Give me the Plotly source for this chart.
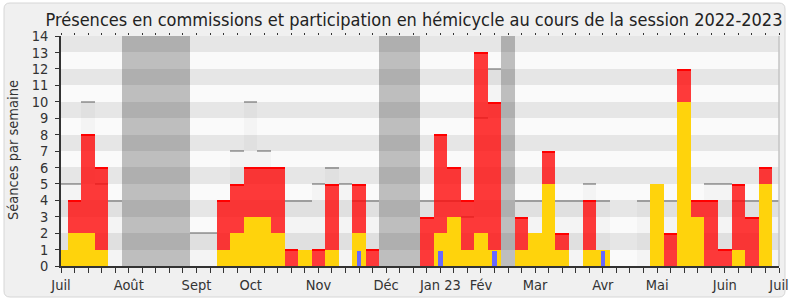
import plotly.graph_objects as go

# ---- data ----
weeks = list(range(54))
month_labels = {0: "Juil", 5: "Août", 10: "Sept", 14: "Oct", 19: "Nov", 24: "Déc",
                28: "Jan 23", 31: "Fév", 35: "Mar", 40: "Avr", 44: "Mai", 49: "Juin", 53: "Juil"}

hemicycle = [1, 2, 2, 1, 0, 0, 0, 0, 0, 0, 0, 0, 1, 2, 3, 3, 2, 0, 1, 0,
             1, 0, 2, 0, 0, 0, 0, 0, 2, 3, 1, 2, 1, 0, 1, 2, 5, 1, 0, 1,
             1, 0, 0, 0, 5, 0, 10, 3, 0, 0, 1, 0, 5, 0]
commission = [0, 2, 6, 5, 0, 0, 0, 0, 0, 0, 0, 0, 3, 3, 3, 3, 4, 1, 0, 1,
              4, 0, 3, 1, 0, 0, 0, 3, 6, 3, 3, 11, 9, 0, 2, 0, 2, 1, 0, 3,
              0, 0, 0, 0, 0, 2, 2, 1, 4, 1, 4, 3, 1, 0]
median_all = [5, 5, 10, 5, 4, 0, 0, 0, 0, 0, 2, 2, 4, 7, 10, 7, 6, 4, 4, 5,
              6, 5, 4, 4, 0, 0, 0, 4, 4, 4, 3, 9, 12, 0, 4, 4, 4, 4, 4, 5,
              4, 0, 0, 4, 4, 4, 4, 4, 5, 5, 4, 4, 4, 4]
questions_weeks = [22, 28, 32, 40]
questions_vals = [0.9, 0.9, 0.9, 0.9]
vacation_weeks = [5, 6, 7, 8, 9, 24, 25, 26, 33]
y_max = 14

# ---- geometry ----
W, H = 790, 300
ML, MR, MT, MB = 61, 11, 36, 34
PW, PH = W - ML - MR, H - MT - MB

def px(x):
    return (x - ML) / PW

def py(y):
    return (H - MB - y) / PH

FONT = "DejaVu Sans Condensed, DejaVu Sans, sans-serif"
total = [h + c for h, c in zip(hemicycle, commission)]

fig = go.Figure()

# median presence (light bars with a gray top edge)
fig.add_trace(go.Bar(x=weeks, y=median_all, width=1, marker=dict(color="#F4F4F4", line=dict(width=0)),
                     hoverinfo="skip", showlegend=False))
mw = [w for w, v in zip(weeks, median_all) if v > 0]
mv = [v for v in median_all if v > 0]
fig.add_trace(go.Bar(x=mw, y=[0.09] * len(mw), base=[v - 0.05 for v in mv], width=1,
                     marker=dict(color="#ABABAB", line=dict(width=0)), hoverinfo="skip", showlegend=False))
# vacations
fig.add_trace(go.Bar(x=vacation_weeks, y=[y_max] * len(vacation_weeks), width=1,
                     marker=dict(color="#BEBEBE", line=dict(width=0)), hoverinfo="skip", showlegend=False))
# horizontal stripes (drawn over the background bars)
stripe_y = [k + 0.5 for k in range(1, y_max, 2)]
fig.add_trace(go.Bar(y=stripe_y, x=[weeks[-1]] * len(stripe_y), base=0, orientation="h", width=1,
                     marker=dict(color="rgba(0,0,0,0.08)", line=dict(width=0)), hoverinfo="skip", showlegend=False))
# hemicycle (yellow)
fig.add_trace(go.Bar(x=weeks, y=hemicycle, width=1, marker=dict(color="#FFD30C", line=dict(width=0)),
                     hoverinfo="skip", showlegend=False))
# commissions (red) stacked on yellow
fig.add_trace(go.Bar(x=weeks, y=commission, base=hemicycle, width=1,
                     marker=dict(color="rgba(255,10,10,0.8)", line=dict(width=0)), hoverinfo="skip", showlegend=False))
rw = [w for w, c in zip(weeks, commission) if c > 0]
rt = [t for t, c in zip(total, commission) if c > 0]
fig.add_trace(go.Bar(x=rw, y=[0.08] * len(rw), base=[t - 0.08 for t in rt], width=1,
                     marker=dict(color="#FF0000", line=dict(width=0)), hoverinfo="skip", showlegend=False))
# questions (blue)
fig.add_trace(go.Bar(x=questions_weeks, y=questions_vals, width=0.33,
                     marker=dict(color="#6868FF", line=dict(width=0)), hoverinfo="skip", showlegend=False))
# invisible trace on top axis so that its ticks are drawn
fig.add_trace(go.Scatter(x=[0], y=[0], xaxis="x2", mode="markers", marker=dict(opacity=0),
                         hoverinfo="skip", showlegend=False))

# rounded frame + plot background
x0, y0, x1, y1, r = px(4), py(3), px(785), py(297), 6 / PW
ry = 6 / PH
path = (f"M {x0 + r},{y0} L {x1 - r},{y0} Q {x1},{y0} {x1},{y0 - ry} "
        f"L {x1},{y1 + ry} Q {x1},{y1} {x1 - r},{y1} L {x0 + r},{y1} Q {x0},{y1} {x0},{y1 + ry} "
        f"L {x0},{y0 - ry} Q {x0},{y0} {x0 + r},{y0} Z")
shapes = [
    dict(type="path", path=path, xref="paper", yref="paper", fillcolor="#F0F0F0",
         line=dict(color="#D6D6D6", width=1), layer="below"),
    dict(type="rect", xref="paper", yref="paper", x0=0, x1=1, y0=0, y1=1,
         fillcolor="#FAFAFA", line=dict(width=0), layer="below"),
    dict(type="line", xref="paper", yref="paper", x0=1, x1=1, y0=0, y1=1,
         line=dict(color="#C4C4C4", width=1.5), layer="above"),
]

fig.update_layout(
    width=W, height=H,
    margin=dict(l=ML, r=MR, t=MT, b=MB, autoexpand=False),
    paper_bgcolor="white", plot_bgcolor="rgba(0,0,0,0)",
    barmode="overlay", bargap=0,
    shapes=shapes,
    font=dict(family=FONT, color="#333333", size=14),
    title=dict(text="Présences en commissions et participation en hémicycle au cours de la session 2022-2023",
               x=414 / W, xanchor="center", xref="container", y=1 - 20 / H, yanchor="middle", yref="container",
               font=dict(size=18, color="#222222", family=FONT)),
    annotations=[dict(text="Séances par semaine", xref="paper", yref="paper", x=px(13), y=py(150),
                      xanchor="center", yanchor="middle", textangle=-90, showarrow=False,
                      font=dict(size=14.5, color="#333333", family=FONT))],
    xaxis=dict(range=[0, weeks[-1]], tickmode="array", tickvals=weeks, automargin=False,
               ticktext=[month_labels.get(w, "") for w in weeks],
               ticks="outside", ticklen=5, tickwidth=1, tickcolor="#333333",
               showline=True, linecolor="#333333", linewidth=1.5, showgrid=False, zeroline=False,
               tickfont=dict(size=14.5, color="#333333")),
    xaxis2=dict(range=[0, weeks[-1]], overlaying="x", side="top", tickmode="array", tickvals=weeks,
                ticks="outside", ticklen=2, tickwidth=1.2, tickcolor="#333333", showticklabels=False,
                automargin=False, showline=False, showgrid=False, zeroline=False),
    yaxis=dict(range=[0, y_max], tickmode="linear", tick0=0, dtick=1, automargin=False,
               ticks="outside", ticklen=4, tickwidth=1, tickcolor="#333333",
               showline=True, linecolor="#333333", linewidth=1.5, showgrid=False, zeroline=False,
               ticklabelstandoff=4,
               tickfont=dict(size=14.5, color="#333333")),
)

fig.write_html("out.html")
